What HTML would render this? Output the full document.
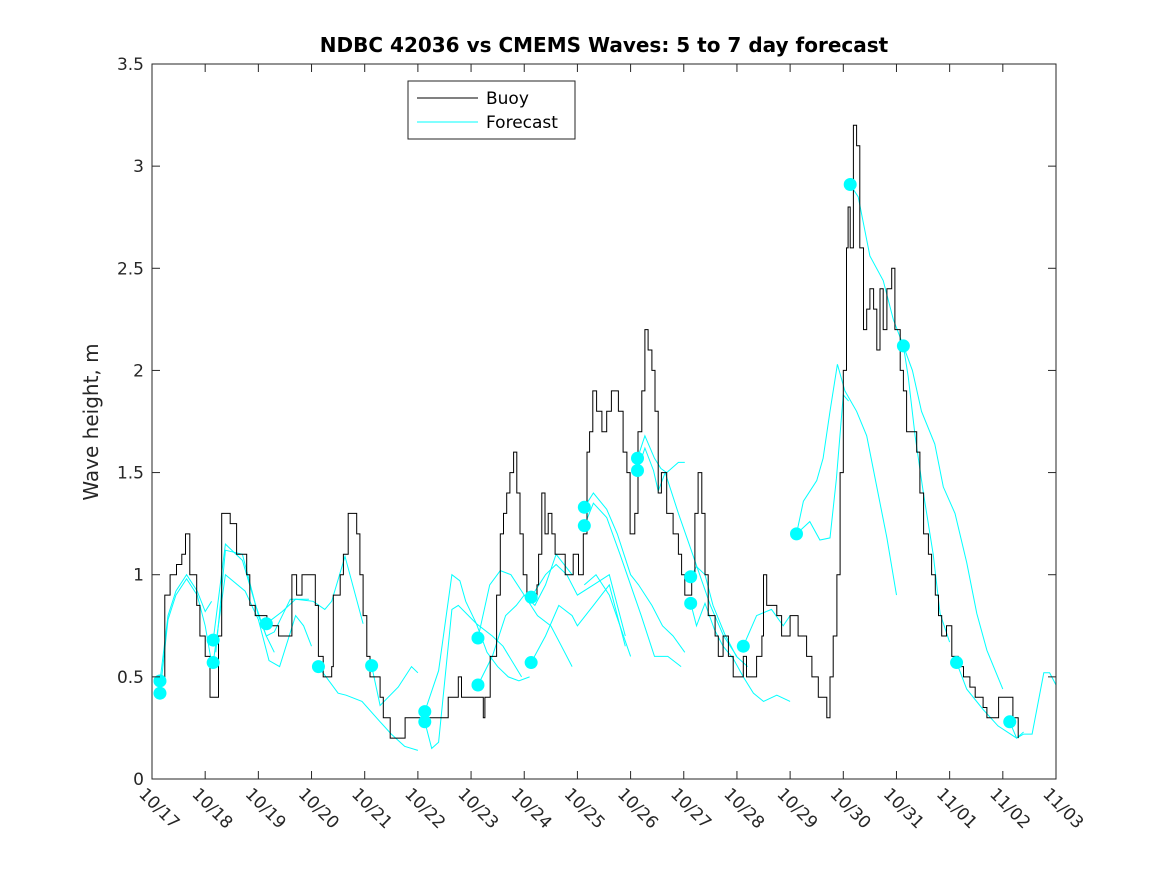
<!DOCTYPE html>
<html><head><meta charset="utf-8"><style>
body{margin:0;background:#fff}
svg{font-family:"DejaVu Sans","Liberation Sans",sans-serif}
</style></head><body>
<svg id="chart" width="1167" height="875" xmlns="http://www.w3.org/2000/svg">
<defs><clipPath id="pc"><rect x="152" y="64" width="904" height="715"/></clipPath></defs>
<rect width="1167" height="875" fill="#fff"/>
<text x="604" y="52" text-anchor="middle" font-size="20" font-weight="bold">NDBC 42036 vs CMEMS Waves: 5 to 7 day forecast</text>
<text transform="translate(98,422) rotate(-90)" text-anchor="middle" font-size="20" fill="#262626">Wave height, m</text>
<g id="plot" clip-path="url(#pc)"></g>
<g id="axes"></g>
<rect x="152" y="64" width="904" height="715" fill="none" stroke="#262626" stroke-width="1"/>
<g>
<rect x="408" y="81" width="167" height="58" fill="#fff" stroke="#262626"/>
<line x1="417" y1="98" x2="478" y2="98" stroke="#000"/>
<text x="486" y="104" font-size="17">Buoy</text>
<line x1="417" y1="122" x2="478" y2="122" stroke="#00ffff"/>
<text x="486" y="128" font-size="17">Forecast</text>
</g>
</svg>
<script>
const xTickLabels=["10/17","10/18","10/19","10/20","10/21","10/22","10/23","10/24","10/25","10/26","10/27","10/28","10/29","10/30","10/31","11/01","11/02","11/03"];
const yTicks=[0,0.5,1,1.5,2,2.5,3,3.5];
const buoyDays=[0.15,0.24,0.34,0.46,0.56,0.63,0.71,0.84,0.90,1.0,1.09,1.22,1.25,1.31,1.47,1.59,1.78,1.84,1.94,2.16,2.38,2.56,2.63,2.72,2.82,3.03,3.07,3.13,3.22,3.38,3.41,3.54,3.60,3.69,3.82,3.85,3.91,3.97,4.04,4.10,4.29,4.35,4.48,4.73,4.76,5.51,5.57,5.73,5.76,5.82,6.20,6.23,6.26,6.36,6.48,6.55,6.61,6.67,6.73,6.80,6.86,6.92,6.98,7.05,7.24,7.27,7.33,7.39,7.45,7.52,7.58,7.77,7.92,8.02,8.11,8.18,8.23,8.29,8.36,8.46,8.55,8.64,8.77,8.86,8.93,8.99,9.08,9.14,9.21,9.27,9.33,9.40,9.46,9.52,9.58,9.68,9.74,9.80,9.90,9.96,10.02,10.15,10.21,10.27,10.34,10.40,10.46,10.59,10.65,10.74,10.84,10.93,11.12,11.18,11.37,11.47,11.50,11.56,11.75,11.84,12.0,12.15,12.31,12.41,12.53,12.69,12.75,12.81,12.88,12.94,13.0,13.06,13.09,13.13,13.19,13.25,13.31,13.38,13.44,13.50,13.57,13.63,13.69,13.75,13.82,13.91,13.97,14.07,14.13,14.19,14.38,14.44,14.51,14.6,14.66,14.73,14.79,14.85,14.94,15.04,15.16,15.26,15.38,15.48,15.63,15.70,15.92,16.19,16.29];
const buoyVals=[0.5,0.9,1.0,1.05,1.1,1.2,1.0,0.85,0.7,0.6,0.4,0.4,0.7,1.3,1.25,1.1,1.0,0.85,0.8,0.75,0.7,0.7,1.0,0.9,1.0,1.0,0.85,0.6,0.5,0.55,0.9,1.0,1.1,1.3,1.3,1.2,1.0,0.8,0.6,0.5,0.4,0.3,0.2,0.2,0.3,0.3,0.4,0.4,0.5,0.4,0.4,0.3,0.4,0.6,0.9,1.2,1.3,1.4,1.5,1.6,1.4,1.2,1.0,0.9,0.95,1.1,1.4,1.2,1.3,1.2,1.1,1.0,1.1,1.0,1.2,1.6,1.7,1.9,1.8,1.7,1.8,1.9,1.8,1.6,1.5,1.2,1.3,1.7,1.9,2.2,2.1,2.0,1.8,1.4,1.5,1.3,1.3,1.2,1.1,1.0,0.9,1.0,1.3,1.5,1.3,1.0,0.8,0.7,0.6,0.7,0.6,0.5,0.6,0.5,0.6,0.7,1.0,0.85,0.8,0.7,0.8,0.7,0.6,0.5,0.4,0.3,0.5,0.7,1.0,1.5,2.0,2.6,2.8,2.6,3.2,3.1,2.6,2.2,2.3,2.4,2.3,2.1,2.4,2.2,2.4,2.5,2.2,2.0,1.9,1.7,1.6,1.4,1.2,1.1,1.0,0.9,0.8,0.7,0.75,0.6,0.55,0.5,0.45,0.4,0.35,0.3,0.4,0.3,0.2];
const fcDays=[
[0.15,0.3,0.45,0.65,0.85,1.0,1.12],
[0.15,0.3,0.45,0.65,0.85,1.0,1.1],
[1.15,1.38,1.7,1.95,2.15,2.3],
[1.15,1.38,1.75,2.0,2.2,2.4,2.7,2.85,3.0],
[1.2,1.38,1.7,2.0,2.15,2.3,2.6,2.95],
[2.15,2.45,2.7,3.03,3.25,3.38,3.63,3.97],
[3.13,3.5,3.65,3.95,4.29,4.5,4.75,5.0],
[4.13,4.29,4.63,4.88,5.0],
[5.13,5.39,5.64,5.79,5.9,6.1,6.4,6.6,6.95],
[5.13,5.26,5.39,5.64,5.76,6.1,6.3,6.5,6.7,6.9,7.1],
[6.13,6.35,6.55,6.75,7.0,7.2,7.4,7.6,7.9],
[6.13,6.4,6.65,6.85,7.0,7.25,7.5,7.7,7.9],
[7.13,7.4,7.6,7.8,8.0,8.3,8.6,8.9],
[7.13,7.4,7.65,7.9,8.0,8.3,8.6,8.9],
[8.13,8.3,8.55,8.75,9.0,9.15,9.4,9.6,9.8,10.02],
[8.13,8.3,8.55,8.8,9.0,9.2,9.45,9.7,9.95],
[8.13,8.35,8.6,8.8,9.0],
[9.13,9.27,9.45,9.57,9.68,9.9,10.02],
[9.13,9.27,9.43,9.52,9.65,9.9,10.1,10.3,10.5,10.75,11.0],
[10.13,10.24,10.4,10.55,10.77,10.99,11.2],
[10.13,10.24,10.4,10.58,10.74,10.93,11.12,11.31,11.5,11.75,12.0],
[11.12,11.37,11.65,11.87,12.0],
[12.12,12.25,12.5,12.62,12.75,12.89,13.03,13.25,13.44,13.63,13.82,14.0],
[12.12,12.37,12.56,12.75,12.87,13.0,13.1],
[13.13,13.28,13.5,13.75,13.94,14.13,14.3,14.47,14.72,14.88,15.1,15.32,15.51,15.7,16.0],
[14.13,14.22,14.35,14.5,14.69,14.82,15.0],
[15.13,15.32,15.63,15.91,16.26,16.39],
[16.13,16.26,16.39,16.55,16.77,16.88,17.0]];
const fcVals=[
[0.48,0.8,0.92,1.0,0.92,0.82,0.87],
[0.42,0.78,0.9,0.98,0.9,0.75,0.6],
[0.68,1.15,1.07,0.85,0.7,0.62],
[0.57,1.0,0.92,0.78,0.58,0.55,0.8,0.75,0.65],
[0.62,1.12,1.1,0.8,0.7,0.72,0.88,0.88],
[0.76,0.82,0.88,0.87,0.83,0.87,1.09,0.76],
[0.55,0.42,0.41,0.38,0.28,0.22,0.16,0.14],
[0.555,0.36,0.45,0.55,0.52],
[0.33,0.53,1.0,0.97,0.87,0.76,0.7,0.65,0.5],
[0.28,0.15,0.18,0.83,0.85,0.76,0.62,0.55,0.5,0.48,0.5],
[0.69,0.95,1.02,1.0,0.9,0.85,0.95,1.1,1.0],
[0.46,0.6,0.8,0.85,0.9,0.8,0.75,0.65,0.55],
[0.89,1.0,1.05,1.0,0.9,0.95,1.0,0.7],
[0.57,0.7,0.85,0.8,0.75,0.85,0.95,0.65],
[1.33,1.4,1.32,1.2,1.0,0.95,0.85,0.75,0.7,0.62],
[1.24,1.35,1.28,1.1,0.95,0.8,0.6,0.6,0.55],
[0.95,1.0,0.9,0.75,0.6],
[1.57,1.68,1.57,1.52,1.5,1.55,1.55],
[1.51,1.62,1.51,1.41,1.5,1.3,1.15,1.0,0.85,0.7,0.6],
[0.99,1.04,1.0,0.85,0.71,0.6,0.55],
[0.86,0.75,0.86,0.73,0.65,0.59,0.5,0.42,0.38,0.41,0.38],
[0.65,0.8,0.83,0.75,0.8],
[1.2,1.36,1.46,1.57,1.8,2.03,1.9,1.8,1.68,1.43,1.18,0.9],
[1.2,1.26,1.17,1.18,1.47,1.88,1.85],
[2.91,2.85,2.56,2.44,2.25,2.12,2.0,1.8,1.64,1.43,1.3,1.06,0.81,0.63,0.44],
[2.12,1.97,1.68,1.41,1.1,0.81,0.67],
[0.57,0.44,0.34,0.26,0.2,0.23],
[0.28,0.2,0.22,0.22,0.52,0.52,0.46]];
const NS="http://www.w3.org/2000/svg";
const X0=152,X1=1056,Y0=779,Y1=64;
function xs(d){return X0+(X1-X0)*d/17;}
function ys(v){return Y0-(Y0-Y1)*v/3.5;}
const g=document.getElementById('plot');
const ax=document.getElementById('axes');
function mk(t,a,p){const e=document.createElementNS(NS,t);for(const k in a)e.setAttribute(k,a[k]);(p||g).appendChild(e);return e;}
yTicks.forEach(v=>{
const l=mk('line',{x1:X0,x2:X0+8,y1:ys(v),y2:ys(v),stroke:'#262626'},ax);


const l2=mk('line',{x1:X1,x2:X1-8,y1:ys(v),y2:ys(v),stroke:'#262626'},ax);


const t=mk('text',{x:X0-8,y:ys(v)+6,'text-anchor':'end','font-size':17,fill:'#262626'},ax);
t.textContent=String(v);


});
xTickLabels.forEach((s,i)=>{
const x=xs(i);
const l=mk('line',{x1:x,x2:x,y1:Y0,y2:Y0-8,stroke:'#262626'},ax);


const l2=mk('line',{x1:x,x2:x,y1:Y1,y2:Y1+8,stroke:'#262626'},ax);


const t=mk('text',{transform:`translate(${x-14},${Y0+16}) rotate(45)`,'font-size':17,fill:'#262626'},ax);
t.textContent=s;


});
fcVals.forEach((arr,i)=>{
const d=arr.map((v,j)=>(j?'L':'M')+xs(fcDays[i][j]).toFixed(1)+','+ys(v).toFixed(1)).join('');
const p=mk('path',{d:d,fill:'none',stroke:'#00ffff','stroke-width':1});


});
let bd='';
buoyVals.forEach((v,j)=>{const x=xs(buoyDays[j]),y=ys(v);bd+=(j?'H'+x.toFixed(1)+'V'+y.toFixed(1):'M'+x.toFixed(1)+','+y.toFixed(1));});
const bp=mk('path',{d:bd,fill:'none',stroke:'#000','stroke-width':1});


const dotIdx=[0,1,2,3,5,6,7,8,9,10,11,12,13,14,15,17,18,19,20,21,22,24,25,26,27];
dotIdx.forEach(i=>{
const c=mk('circle',{cx:xs(fcDays[i][0]),cy:ys(fcVals[i][0]),r:6.5,fill:'#00ffff'});


});
</script>
</body></html>
